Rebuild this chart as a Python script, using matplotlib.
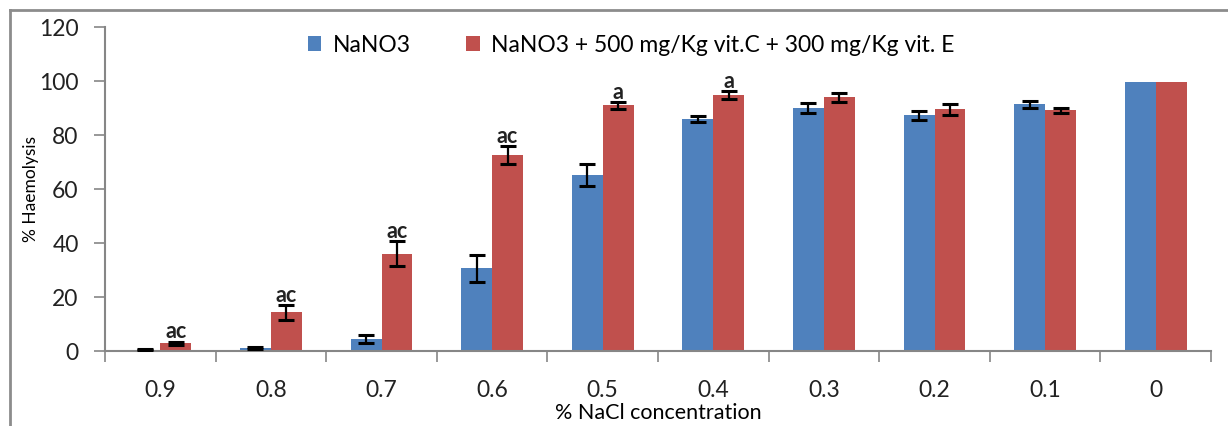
import numpy as np
import matplotlib
matplotlib.use("Agg")
import matplotlib.pyplot as plt
from matplotlib.lines import Line2D

plt.rcParams['font.family'] = ['Lato', 'DejaVu Sans']

# Data
nacl = ['0.9', '0.8', '0.7', '0.6', '0.5', '0.4', '0.3', '0.2', '0.1', '0']
nano3 = [0.4, 1.2, 4.6, 30.6, 65.2, 86.0, 89.9, 87.3, 91.3, 99.6]
nano3_err = [0.2, 0.4, 1.5, 4.9, 4.2, 1.2, 1.8, 1.6, 1.3, 0]
vit = [2.8, 14.3, 36.0, 72.6, 91.0, 94.9, 93.9, 89.5, 89.1, 99.6]
vit_err = [0.7, 2.7, 4.7, 3.2, 1.3, 1.5, 1.5, 2.0, 0.9, 0]
marks = ['ac', 'ac', 'ac', 'ac', 'a', 'a', '', '', '', '']

W, H = 1228, 426
fig = plt.figure(figsize=(W / 100, H / 100), dpi=100)
fig.patch.set_facecolor('white')
ax = fig.add_axes([105 / W, (H - 351) / H, (1211 - 105) / W, (351 - 27) / H])

x = np.arange(len(nacl))
bw = 0.28
blue = '#4F81BD'
red = '#C0504D'
ax.bar(x - bw / 2, nano3, bw, color=blue, label='NaNO3', zorder=2)
ax.bar(x + bw / 2, vit, bw, color=red,
       label='NaNO3 + 500 mg/Kg vit.C + 300 mg/Kg vit. E', zorder=2)

# error bars only where an error was shown
for xs, vals, errs in [(x - bw / 2, nano3, nano3_err), (x + bw / 2, vit, vit_err)]:
    vals, errs = np.array(vals), np.array(errs)
    keep = errs > 0
    ax.errorbar(xs[keep], vals[keep], yerr=errs[keep], fmt='none', ecolor='black',
                elinewidth=1.6, capsize=6, capthick=2.2, zorder=3)

for i, m in enumerate(marks):
    if m:
        ax.text(x[i] + bw / 2, vit[i] + vit_err[i] - 0.3, m, ha='center',
                va='bottom', fontsize=15.5, fontweight='bold', color='#222222')

ax.set_xlim(-0.5, len(nacl) - 0.5)
ax.set_ylim(0, 120)
ax.set_yticks(np.arange(0, 121, 20))
ax.set_xticks(x)
ax.set_xticklabels(nacl)
ax.set_xticks(np.arange(-0.5, len(nacl), 1), minor=True)
ax.tick_params(axis='x', which='major', length=0, pad=21, labelsize=16.5, colors='#222222')
ax.tick_params(axis='x', which='minor', length=8, width=1.2, color='#868686', direction='out')
ax.tick_params(axis='y', length=8, width=1.2, color='#868686', pad=11, labelsize=16.5,
               labelcolor='#222222')

for s in ['top', 'right']:
    ax.spines[s].set_visible(False)
for s in ['left', 'bottom']:
    ax.spines[s].set_color('#868686')
    ax.spines[s].set_linewidth(1.5)

ax.set_ylabel('% Haemolysis', fontsize=12.5)
ax.yaxis.set_label_coords(-0.067, 0.5)
ax.set_xlabel('% NaCl concentration', fontsize=15.5)
ax.xaxis.set_label_coords(0.5, -(413 - 351) / (351 - 27))
ax.xaxis.label.set_va('center')
ax.yaxis.label.set_va('center')

leg = fig.legend(loc='center left', bbox_to_anchor=(287 / W, 1 - 45 / H), ncol=2,
                 frameon=False, fontsize=16.5, handlelength=0.6, handleheight=0.6,
                 handletextpad=0.5, columnspacing=2.4)

# outer frame (left and top edges visible)
fig.add_artist(Line2D([10 / W, 10 / W], [0, 1 - 10 / H], color='#8c8c8c', lw=2))
fig.add_artist(Line2D([10 / W, 1], [1 - 10 / H, 1 - 10 / H], color='#8c8c8c', lw=2))

fig.savefig('out.png', dpi=100)
